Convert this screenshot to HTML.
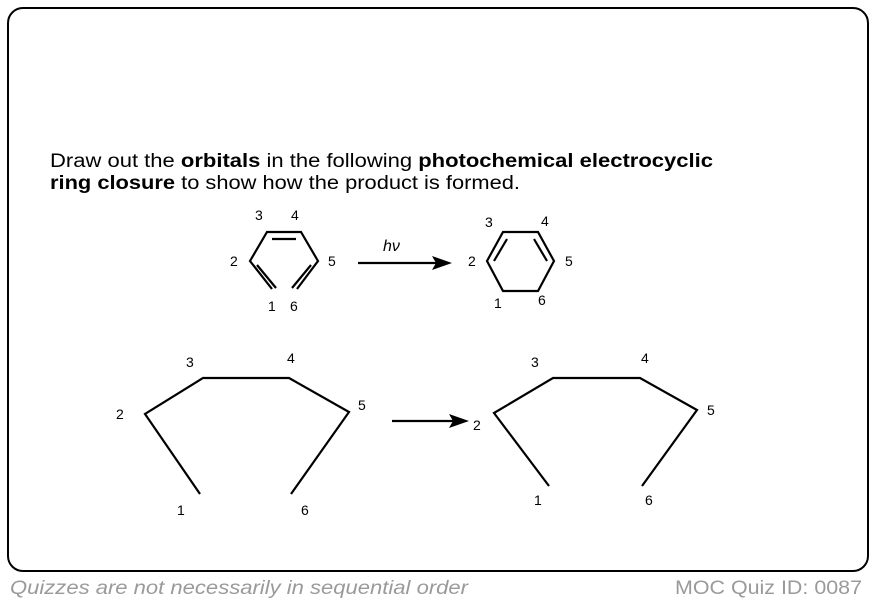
<!DOCTYPE html>
<html><head><meta charset="utf-8"><style>
html,body{margin:0;padding:0;background:#fff;width:876px;height:604px;overflow:hidden;font-family:"Liberation Sans",Arial,sans-serif}
</style></head><body>
<svg width="876" height="604" viewBox="0 0 876 604" xmlns="http://www.w3.org/2000/svg" font-family="Liberation Sans, Arial, sans-serif">
<rect x="8" y="8" width="860" height="563" rx="15" ry="15" fill="#fff" stroke="#000" stroke-width="2"/>
<text x="50" y="167" font-size="19" fill="#000" textLength="663" lengthAdjust="spacingAndGlyphs">Draw out the <tspan font-weight="bold">orbitals</tspan> in the following <tspan font-weight="bold">photochemical electrocyclic</tspan></text>
<text x="50" y="189" font-size="19" fill="#000" textLength="470" lengthAdjust="spacingAndGlyphs"><tspan font-weight="bold">ring closure</tspan> to show how the product is formed.</text>
<g stroke="#000" stroke-width="2.2" fill="none" stroke-linejoin="miter">
<polyline points="272,289 250,261 267,232 301,232 318,261 297,289"/>
<line x1="272" y1="239" x2="296" y2="239"/>
<line x1="257" y1="265" x2="276" y2="288"/>
<line x1="311" y1="265" x2="292" y2="288"/>
<line x1="358" y1="263" x2="436" y2="263"/>
<polygon points="503,232 538,232 554,261 538,291 503,291 487,261"/>
<line x1="494" y1="261" x2="507" y2="239"/>
<line x1="534" y1="239" x2="547" y2="261"/>
<polyline points="200,494 145,414 203,378 289,378 349,412 291,494"/>
<line x1="392" y1="421" x2="455" y2="421"/>
<polyline points="549,486 494,413 553,378 640,378 697,410 642,486"/>
</g>
<polygon points="452,263 432,256 436,263 432,270" fill="#000"/>
<polygon points="469,421 449,414 453,421 449,428" fill="#000"/>
<g font-size="14" fill="#000">
<text x="255" y="220">3</text><text x="291" y="220">4</text>
<text x="230" y="266">2</text><text x="328" y="266">5</text>
<text x="268" y="311">1</text><text x="290" y="311">6</text>
<text x="383" y="251" font-style="italic" font-size="16">hν</text>
<text x="485" y="227">3</text><text x="541" y="226">4</text>
<text x="468" y="266">2</text><text x="565" y="266">5</text>
<text x="494" y="308">1</text><text x="538" y="305">6</text>
<text x="116" y="419">2</text><text x="186" y="367">3</text><text x="287" y="363">4</text>
<text x="358" y="410">5</text><text x="177" y="515">1</text><text x="301" y="515">6</text>
<text x="473" y="430">2</text><text x="531" y="367">3</text><text x="641" y="363">4</text>
<text x="707" y="415">5</text><text x="534" y="505">1</text><text x="645" y="505">6</text>
</g>
<text x="10" y="594" font-size="19" font-style="italic" fill="#9a9a9a" textLength="458" lengthAdjust="spacingAndGlyphs">Quizzes are not necessarily in sequential order</text>
<text x="675" y="594" font-size="19" fill="#9a9a9a" textLength="187" lengthAdjust="spacingAndGlyphs">MOC Quiz ID: 0087</text>
</svg>
</body></html>
